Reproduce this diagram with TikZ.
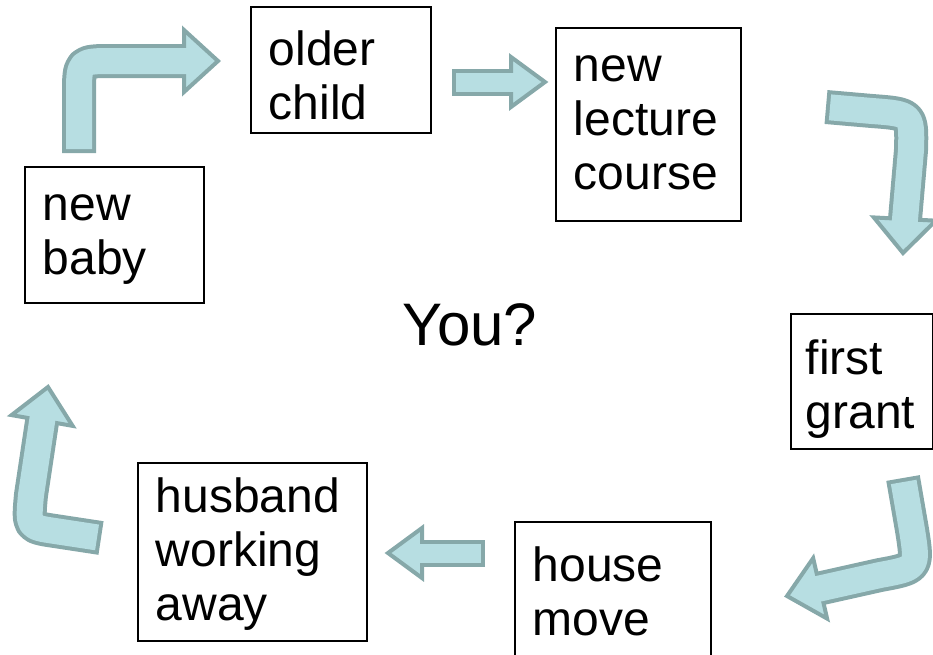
\documentclass[tikz,border=0pt]{standalone}
\usepackage{fontspec}
\setmainfont{Liberation Sans}
\definecolor{arrowfillc}{RGB}{183,222,226}
\definecolor{arrowlinec}{RGB}{134,168,169}
\newcommand{\boxfont}{\fontsize{48}{54}\selectfont}
% shaft width, head half-width, shaft path, tip, direction
\newcommand{\blockarrow}[5]{%
  \pgfmathsetmacro\outerw{#1+8}
  \draw[arrowline, line width=\outerw pt] #3;
  \draw[arrowhead, shift={#4}, rotate=#5] (0,0) -- (-34,#2) -- (-34,-#2) -- cycle;
  \draw[arrowfill, line width=#1pt] #3;
}
\tikzset{
  box/.style={draw, line width=1.5pt, anchor=north west, align=left, inner xsep=18pt, inner ysep=0pt, font=\boxfont},
  arrowline/.style={draw=arrowlinec, line cap=butt, line join=round},
  arrowfill/.style={draw=arrowfillc, line cap=butt, line join=round, shorten <=4pt},
  arrowhead/.style={fill=arrowfillc, draw=arrowlinec, line width=4pt, line join=miter},
}
\begin{document}
\begin{tikzpicture}[x=1pt,y=-1pt]
\useasboundingbox (0,0) rectangle (933,654);

\node[box, text width=144pt, text height=59pt, text depth=67pt] (older) at (250,6) {older\\child};
\node[box, text width=149pt, text height=54pt, text depth=139pt] (lecture) at (555,27) {new\\lecture\\course};
\node[box, text width=143pt, text height=54pt, text depth=82pt] (baby) at (24,166) {new\\baby};
\node[box, inner xsep=15pt, text width=112pt, text height=61pt, text depth=74pt] (grant) at (790,313) {first\\grant};
\node[box, text width=193pt, text height=50pt, text depth=128pt] (husband) at (137,462) {husband\\working\\away};
\node[box, text width=160pt, text height=60pt, text depth=80pt] (house) at (514,521) {house\\move};

\node[font=\fontsize{60}{72}\selectfont, anchor=base] (you) at (470,345) {You?};

% arrows round the cycle
\blockarrow{26}{31}{(79,153) -- (79,95) .. controls (79,61) .. (113,61) -- (190,61)}{(218,61)}{0}
\blockarrow{19}{25}{(452,82) -- (517,82)}{(545,82)}{0}
\blockarrow{26}{31}{(826,107) -- (872,111) .. controls (912,114) .. (911,150) -- (904.5,225)}{(903,253)}{-93}
\blockarrow{26}{31}{(903,478) -- (912,530) .. controls (918,568) .. (880,575) -- (814.3,589.7)}{(787,596)}{193}
\blockarrow{19}{25}{(485,553) -- (416,553)}{(388,553)}{180}
\blockarrow{26}{31}{(101,538) -- (55,531) .. controls (28,527) .. (31,495) -- (43.1,414.6)}{(48,387)}{80}
\end{tikzpicture}
\end{document}
